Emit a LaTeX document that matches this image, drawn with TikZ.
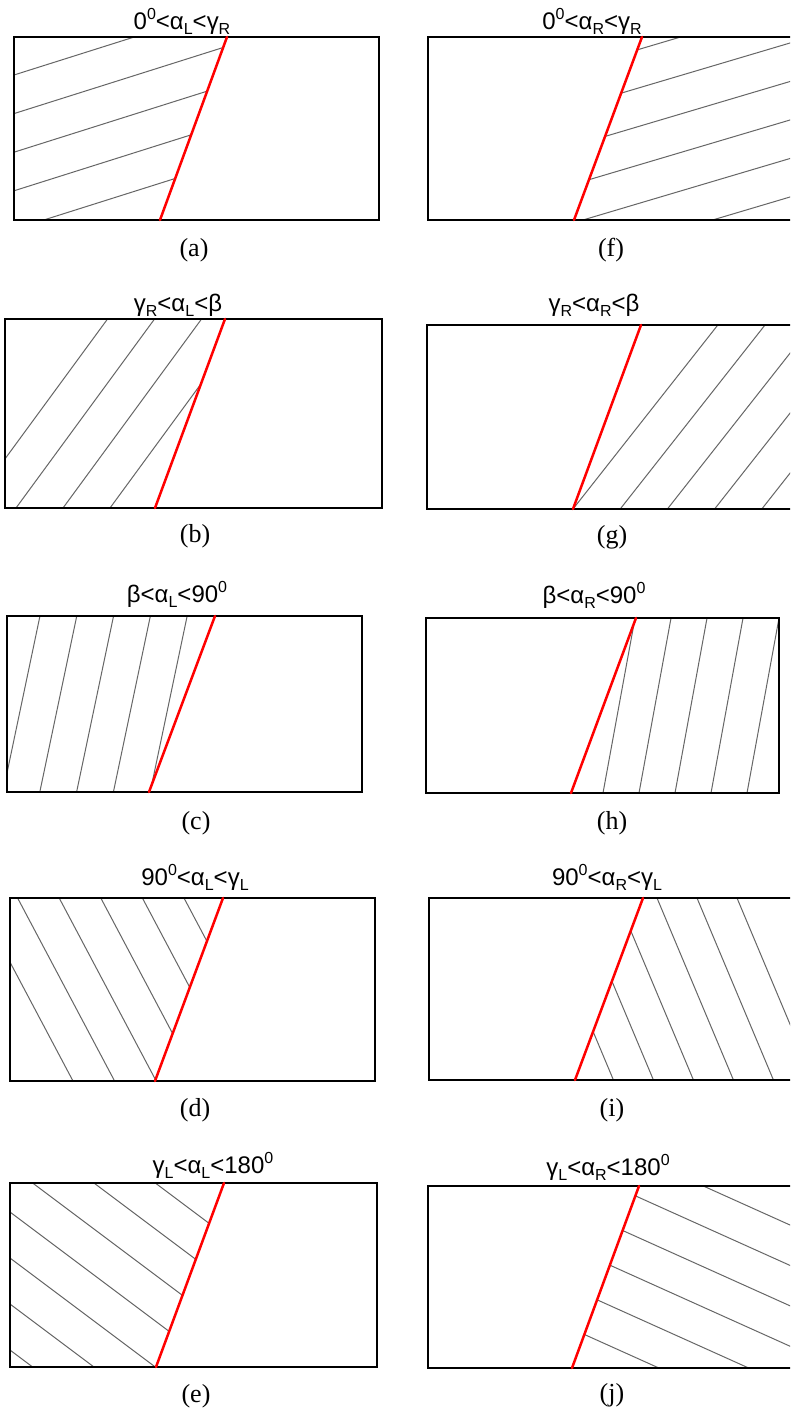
\documentclass[tikz,border=0pt]{standalone}
\usepackage{fontspec}
\setmainfont{Liberation Serif}
\newfontfamily\ttl{Liberation Sans}
\newcommand\supz{\raisebox{0.75ex}{\fontsize{16}{16}\selectfont 0}}
\newcommand\subx[1]{\raisebox{-0.45ex}{\fontsize{16}{16}\selectfont #1}}
\newcommand\hatchset[8]{%
  \begin{scope}
    \clip #1;
    \foreach \k in {0,...,#8}{
      \draw[hatchline] ({#2+\k*#4-(#6)*6},{#3+\k*#5-(#7)*6}) -- ({#2+\k*#4+(#6)*6},{#3+\k*#5+(#7)*6});
    }
  \end{scope}}
\tikzset{
  hatchline/.style={line width=1pt, draw=black!60},
  frame/.style={line width=2pt, draw=black},
  redline/.style={line width=2.5pt, draw=red, line cap=round},
  ttext/.style={font=\ttl\fontsize{24}{24}\selectfont, anchor=base, inner sep=0pt},
  ctext/.style={font=\fontsize{26}{26}\selectfont, anchor=center, inner sep=0pt}
}
\begin{document}
\begin{tikzpicture}[x=1pt,y=-1pt]
\useasboundingbox (0,0) rectangle (790,1416);
\fill[white] (0,0) rectangle (790,1416);
\clip (0,0) rectangle (790,1416);

% ---------- (a)
\hatchset{(14,37)--(227,37)--(160,220)--(14,220)--cycle}{14}{75}{0}{38.6}{100}{-31.6}{4}
\draw[frame] (14,37) rectangle (379,220);
\coordinate (aT) at (227,37); \coordinate (aB) at (160,220);
\draw[redline] (aT) -- (aB);
\node[ttext] (tA) at (182,29) {0\supz<α\subx{L}<γ\subx{R}};
\node[ctext] (cA) at (194,250) {(a)};

% ---------- (f)
\hatchset{(642,37)--(800,37)--(800,220)--(574,220)--cycle}{790}{4.5}{0}{38.5}{100}{-29.7}{5}
\draw[frame] (428,37) rectangle (800,220);
\coordinate (fT) at (642,37); \coordinate (fB) at (574,220);
\draw[redline] (fT) -- (fB);
\node[ttext] (tF) at (592,29) {0\supz<α\subx{R}<γ\subx{R}};
\node[ctext] (cF) at (611,250) {(f)};

% ---------- (b)
\hatchset{(5,319)--(225,319)--(155,508)--(5,508)--cycle}{-31}{508}{47}{0}{73.3}{-100}{3}
\draw[frame] (5,319) rectangle (382,508);
\coordinate (bT) at (225,319); \coordinate (bB) at (155,508);
\draw[redline] (bT) -- (bB);
\node[ttext] (tB) at (178,311) {γ\subx{R}<α\subx{L}<β};
\node[ctext] (cB) at (195,536) {(b)};

% ---------- (g)
\hatchset{(641,325)--(800,325)--(800,509)--(573,509)--cycle}{573}{509}{47.2}{0}{78.7}{-100}{4}
\draw[frame] (427,325) rectangle (800,509);
\coordinate (gT) at (641,325); \coordinate (gB) at (573,509);
\draw[redline] (gT) -- (gB);
\node[ttext] (tG) at (594,311) {γ\subx{R}<α\subx{R}<β};
\node[ctext] (cG) at (612,537) {(g)};

% ---------- (c)
\hatchset{(7,616)--(215,616)--(149,792)--(7,792)--cycle}{3}{792}{36.8}{0}{21}{-100}{4}
\draw[frame] (7,616) rectangle (362,792);
\coordinate (cT) at (215,616); \coordinate (cBt) at (149,792);
\draw[redline] (cT) -- (cBt);
\node[ttext] (tC) at (177,602) {β<α\subx{L}<90\supz};
\node[ctext] (cC) at (196,823) {(c)};

% ---------- (h)
\hatchset{(636,618)--(779,618)--(779,793)--(571,793)--cycle}{603}{793}{36}{0}{18.3}{-100}{4}
\draw[frame] (426,618) rectangle (779,793);
\coordinate (hT) at (636,618); \coordinate (hB) at (571,793);
\draw[redline] (hT) -- (hB);
\node[ttext] (tH) at (594,603) {β<α\subx{R}<90\supz};
\node[ctext] (cH) at (612,823) {(h)};

% ---------- (d)
\hatchset{(10,898)--(223,898)--(155,1081)--(10,1081)--cycle}{-24}{898}{41.6}{0}{53}{100}{5}
\draw[frame] (10,898) rectangle (375,1081);
\coordinate (dT) at (223,898); \coordinate (dB) at (155,1081);
\draw[redline] (dT) -- (dB);
\node[ttext] (tD) at (195,885) {90\supz<α\subx{L}<γ\subx{L}};
\node[ctext] (cD) at (195,1110) {(d)};

% ---------- (i)
\hatchset{(643,898)--(800,898)--(800,1080)--(575,1080)--cycle}{537}{898}{40}{0}{42}{100}{5}
\draw[frame] (429,898) rectangle (800,1080);
\coordinate (iT) at (643,898); \coordinate (iB) at (575,1080);
\draw[redline] (iT) -- (iB);
\node[ttext] (tI) at (607,885) {90\supz<α\subx{R}<γ\subx{L}};
\node[ctext] (cI) at (612,1110) {(i)};

% ---------- (e)
\hatchset{(10,1183)--(224,1183)--(156,1367)--(10,1367)--cycle}{10}{1074}{0}{46}{100}{75}{6}
\draw[frame] (10,1183) rectangle (377,1367);
\coordinate (eT) at (224,1183); \coordinate (eB) at (156,1367);
\draw[redline] (eT) -- (eB);
\node[ttext] (tE) at (213,1173) {γ\subx{L}<α\subx{L}<180\supz};
\node[ctext] (cE) at (196,1396) {(e)};

% ---------- (j)
\hatchset{(639,1186)--(800,1186)--(800,1368)--(572,1368)--cycle}{790}{1225}{0}{40.4}{100}{45}{5}
\draw[frame] (428,1186) rectangle (800,1368);
\coordinate (jT) at (639,1186); \coordinate (jB) at (572,1368);
\draw[redline] (jT) -- (jB);
\node[ttext] (tJ) at (608,1175) {γ\subx{L}<α\subx{R}<180\supz};
\node[ctext] (cJ) at (612,1395) {(j)};
\end{tikzpicture}
\end{document}
